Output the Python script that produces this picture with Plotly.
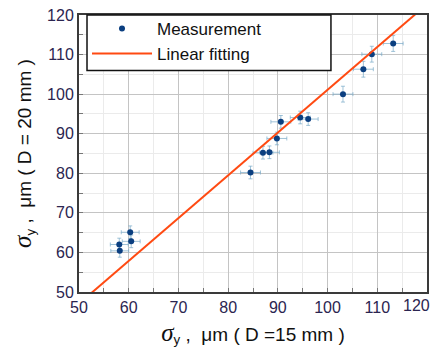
import plotly.graph_objects as go
import numpy as np

# Measurement data: sigma_y at D=15 mm (x) vs D=20 mm (y)
meas_x = [58.1, 58.2, 60.3, 60.5, 84.5, 87.0, 88.3, 89.8, 90.6, 94.5, 96.1, 103.1, 107.2, 108.9, 113.2]
meas_y = [62.0, 60.4, 65.1, 62.8, 80.2, 85.2, 85.3, 88.8, 93.0, 94.1, 93.7, 100.0, 106.3, 110.1, 112.8]
err_x = [1.8, 1.8, 1.8, 1.8, 2.0, 2.0, 2.0, 2.0, 2.0, 2.0, 2.0, 2.0, 2.0, 2.0, 2.0]
err_y = [1.6, 1.6, 1.6, 1.6, 1.6, 1.6, 1.6, 1.6, 1.6, 1.6, 1.6, 2.0, 2.0, 2.0, 2.0]

# Linear fit parameters
fit_slope = 1.081
fit_intercept = -7.0
fit_x_range = [50, 120]

x_tick_vals = [50, 60, 70, 80, 90, 100, 110]
x_last_tick = 120
y_tick_vals = [50, 60, 70, 80, 90, 100, 110, 120]

fx = np.linspace(fit_x_range[0], fit_x_range[1], 50)
fy = fit_slope * fx + fit_intercept

fig = go.Figure()
fig.add_trace(go.Scatter(
    x=meas_x, y=meas_y, mode="markers", name="Measurement", legendgroup="a",
    marker=dict(color="#0b3f80", size=6),
    error_x=dict(type="data", array=err_x, color="rgba(120,170,200,0.7)", thickness=1, width=2),
    error_y=dict(type="data", array=err_y, color="rgba(120,170,200,0.7)", thickness=1, width=2),
))
fig.add_trace(go.Scatter(
    x=fx, y=fy, mode="lines", name="Linear fitting", legendgroup="b",
    line=dict(color="#ff4a12", width=2),
))

sig = '<span style="font-family:Liberation Serif;font-size:25px"><i>σ</i></span><sub>y</sub>'
tick_font = dict(family="Liberation Sans", size=16, color="#2b2550")
axis_common = dict(
    showline=True, linecolor="#3a3a3a", linewidth=2, mirror=True,
    showgrid=True, gridcolor="#c4c4c4", gridwidth=1,
    minor=dict(dtick=5, showgrid=True, gridcolor="#ebebeb", gridwidth=1,
               ticks="inside", ticklen=4, tickcolor="#777"),
    zeroline=False, ticks="inside", ticklen=4, tickcolor="#777",
    tickfont=tick_font, automargin=False,
)
title_font = dict(family="Liberation Sans", size=19, color="#111")
fig.update_xaxes(range=[50, 120], tickvals=x_tick_vals,
                 title=dict(text=sig + " ,  μm ( D =15 mm )", font=title_font, standoff=12), **axis_common)
fig.update_yaxes(range=[50, 120], tickvals=y_tick_vals,
                 title=dict(text=sig + " ,  μm ( D = 20 mm )", font=title_font, standoff=10), **axis_common)

# last x tick label, kept inside the page like in the reference
fig.add_annotation(x=x_last_tick, xref="x", y=0, yref="paper", text=str(x_last_tick),
                   showarrow=False, xanchor="right", yanchor="middle", xshift=5, yshift=-13,
                   font=tick_font)

# legend frame (wider than the entries, as in the reference)
fig.add_shape(type="rect", xref="paper", yref="paper", x0=0.023, x1=0.724, y0=0.80, y1=1.0,
              fillcolor="white", line=dict(color="#111", width=1.5), layer="above")

fig.update_layout(
    width=435, height=353,
    margin=dict(l=79, r=8, t=15, b=61),
    plot_bgcolor="white", paper_bgcolor="white",
    showlegend=True,
    legend=dict(x=0.023, y=1.015, xanchor="left", yanchor="top", bgcolor="rgba(0,0,0,0)",
                borderwidth=0, traceorder="grouped",
                font=dict(family="Liberation Sans", size=17, color="#111"),
                itemwidth=60, tracegroupgap=0),
)

fig.write_html("out.html", config={"displayModeBar": False},
               post_script="document.body.style.margin='0px';")
